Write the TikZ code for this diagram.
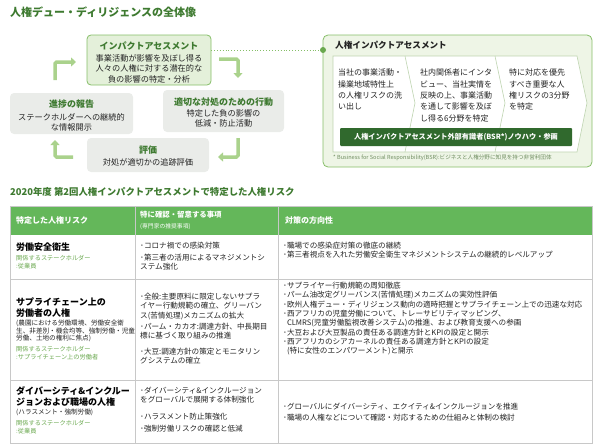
\documentclass[tikz,border=0pt]{standalone}
\usepackage{fontspec}
\setmainfont{Noto Sans CJK JP}
\usetikzlibrary{arrows.meta}
\definecolor{ttlgreen}{RGB}{62,122,48}
\definecolor{boxgreen}{RGB}{134,190,104}
\definecolor{boxfill}{RGB}{228,240,218}
\definecolor{grayfill}{RGB}{234,236,233}
\definecolor{arrowgreen}{RGB}{170,210,140}
\definecolor{panelfill}{RGB}{238,245,230}
\definecolor{chevline}{RGB}{190,212,176}
\definecolor{bargreen}{RGB}{48,105,45}
\definecolor{headgreen}{RGB}{100,183,90}
\definecolor{skgreen}{RGB}{106,168,79}
\definecolor{notegreen}{RGB}{110,140,95}
\definecolor{linegray}{RGB}{200,200,200}
\definecolor{txtgray}{RGB}{35,35,35}
\tikzset{
	maintitle/.style={anchor=north west, inner sep=0pt, font=\fontsize{11}{13}\selectfont\bfseries, text=ttlgreen},
	boxtitle/.style={anchor=north, inner sep=0pt, font=\fontsize{9}{11}\selectfont\bfseries, text=ttlgreen},
	boxbody/.style={anchor=north, inner sep=0pt, align=center, font=\fontsize{8.2}{10.5}\selectfont, text=txtgray},
	steptext/.style={anchor=north west, inner sep=0pt, align=left, font=\fontsize{8}{11.3}\selectfont, text=txtgray},
	cyclearrow/.style={line width=3.5pt, color=arrowgreen, rounded corners=1.5pt, -{Triangle[length=5pt,width=9pt]}},
	headtext/.style={anchor=north west, inner sep=0pt, font=\fontsize{8}{10}\selectfont\bfseries, text=white},
	celltitle/.style={anchor=north west, inner sep=0pt, align=left, font=\fontsize{9}{11}\selectfont\bfseries, text=black},
	cellnote/.style={anchor=north west, inner sep=0pt, align=left, font=\fontsize{6.6}{7.6}\selectfont, text=txtgray},
	cellsk/.style={anchor=north west, inner sep=0pt, align=left, font=\fontsize{6.2}{8.5}\selectfont, text=skgreen},
	celltext/.style={anchor=north west, inner sep=0pt, align=left, font=\fontsize{7.6}{9.3}\selectfont, text=txtgray}
}

\begin{document}
\begin{tikzpicture}[x=1pt,y=-1pt]
	%%%%% START %%%%%
	\useasboundingbox (0,0) rectangle (600,447);

	\node[maintitle] (title) at (10,6.5) {人権デュー・ディリジェンスの全体像};

	% cycle of the due diligence
	\draw[rounded corners=4pt, draw=boxgreen, fill=boxfill, line width=0.8pt] (87,35) rectangle (211,85);
	\node[boxtitle] (assesstitle) at (149,41.5) {インパクトアセスメント};
	\node[boxbody] (assessbody) at (149,54) {事業活動が影響を及ぼし得る\\人々の人権に対する潜在的な\\負の影響の特定・分析};

	\fill[rounded corners=4pt, grayfill] (163,90) rectangle (284,132);
	\node[boxtitle] (acttitle) at (223.5,97.5) {適切な対処のための行動};
	\node[boxbody] (actbody) at (223.5,109) {特定した負の影響の\\低減・防止活動};

	\fill[rounded corners=4pt, grayfill] (87,138) rectangle (209,172);
	\node[boxtitle] (evaltitle) at (148,145.5) {評価};
	\node[boxbody] (evalbody) at (148,158) {対処が適切かの追跡評価};

	\fill[rounded corners=4pt, grayfill] (10,93) rectangle (133,134);
	\node[boxtitle] (reporttitle) at (71.5,99.5) {進捗の報告};
	\node[boxbody] (reportbody) at (71.5,113) {ステークホルダーへの継続的\\な情報開示};

	\draw[cyclearrow] (55,80) -- (55,62) -- (76,62);
	\draw[cyclearrow] (219,59) -- (238,59) -- (238,78);
	\draw[cyclearrow] (238,138) -- (238,157) -- (218,157);
	\draw[cyclearrow] (73,157) -- (55,157) -- (55,140);

	% human rights impact assessment panel
	\draw[dotted, line width=0.9pt, color=boxgreen] (211,50) -- (320,50);
	\draw[rounded corners=5pt, draw=boxgreen, fill=panelfill, line width=0.8pt] (323,35) rectangle (592,167);
	\fill[skgreen] (323,50) circle (3);
	\node[anchor=north west, inner sep=0pt, font=\fontsize{8.6}{10}\selectfont\bfseries, text=txtgray] (paneltitle) at (335,40.5) {人権インパクトアセスメント};

	\draw[draw=chevline, fill=white, line width=0.6pt] (333,56) -- (577,56) -- (587,103) -- (577,152) -- (333,152) -- cycle;
	\draw[chevline, line width=0.6pt] (405,56) -- (415,103) -- (405,152);
	\draw[chevline, line width=0.6pt] (495,56) -- (505,103) -- (495,152);

	\node[steptext] (stepone) at (338,69) {当社の事業活動・\\操業地域特性上\\の人権リスクの洗\\い出し};
	\node[steptext] (steptwo) at (420,69) {社内関係者にインタ\\ビュー、当社実情を\\反映の上、事業活動\\を通して影響を及ぼ\\し得る6分野を特定};
	\node[steptext] (stepthree) at (509,69) {特に対応を優先\\すべき重要な人\\権リスクの3分野\\を特定};

	\fill[bargreen, rounded corners=1pt] (340,128) rectangle (572,146);
	\node[inner sep=0pt, font=\fontsize{7.2}{9}\selectfont\bfseries, text=white] (expertbar) at (456,137) {人権インパクトアセスメント外部有識者(BSR*)ノウハウ・参画};
	\node[anchor=west, inner sep=0pt, font=\fontsize{5.6}{7}\selectfont, text=notegreen] (footnote) at (333,158) {* Business for Social Responsibility(BSR):ビジネスと人権分野に知見を持つ非営利団体};

	% table of identified risks
	\node[anchor=north west, inner sep=0pt, font=\fontsize{9.4}{11}\selectfont\bfseries, text=ttlgreen] (tabletitle) at (10,187) {2020年度 第2回人権インパクトアセスメントで特定した人権リスク};

	\fill[headgreen] (10,206) rectangle (592,235);
	\draw[linegray, line width=0.8pt] (10,206) rectangle (592,443);
	\draw[linegray, line width=0.8pt] (10,279) -- (592,279);
	\draw[linegray, line width=0.8pt] (10,380) -- (592,380);
	\draw[linegray, line width=0.6pt] (135,206) -- (135,443);
	\draw[linegray, line width=0.6pt] (278,206) -- (278,443);

	\node[headtext] (headrisk) at (16,216) {特定した人権リスク};
	\node[headtext, font=\fontsize{7.4}{9}\selectfont\bfseries] (headcheck) at (140,211) {特に確認・留意する事項};
	\node[anchor=north west, inner sep=0pt, font=\fontsize{5.8}{7}\selectfont, text=white] (headexpert) at (140,223) {(専門家の推奨事項)};
	\node[headtext] (headaction) at (285,216) {対策の方向性};

	% row 1
	\node[celltitle] (riskone) at (16,242.5) {労働安全衛生};
	\node[cellsk] (skone) at (16,255) {関係するステークホルダー\\:従業員};
	\node[celltext] (checkonea) at (140,242) {･コロナ禍での感染対策};
	\node[celltext] (checkoneb) at (140,254) {･第三者の活用によるマネジメントシ\\ステム強化};
	\node[celltext] (actone) at (283,242) {･職場での感染症対策の徹底の継続\\･第三者視点を入れた労働安全衛生マネジメントシステムの継続的レベルアップ};

	% row 2
	\node[celltitle] (risktwo) at (16,297.5) {サプライチェーン上の\\労働者の人権};
	\node[cellnote] (notetwo) at (16,320) {(農園における労働環境、労働安全衛\\生、非差別・機会均等、強制労働・児童\\労働、土地の権利に焦点)};
	\node[cellsk] (sktwo) at (16,346) {関係するステークホルダー\\:サプライチェーン上の労働者};
	\node[celltext] (checktwoa) at (140,293) {･全般:主要原料に限定しないサプラ\\イヤー行動規範の確立、グリーバン\\ス(苦情処理)メカニズムの拡大};
	\node[celltext] (checktwob) at (140,323) {･パーム・カカオ:調達方針、中長期目\\標に基づく取り組みの推進};
	\node[celltext] (checktwoc) at (140,348) {･大豆:調達方針の策定とモニタリン\\グシステムの確立};
	\node[celltext] (acttwo) at (283,282) {･サプライヤー行動規範の周知徹底\\･パーム油改定グリーバンス(苦情処理)メカニズムの実効性評価\\･欧州人権デュー・ディリジェンス動向の適時把握とサプライチェーン上での迅速な対応\\･西アフリカの児童労働について、トレーサビリティマッピング、\\\phantom{･}CLMRS(児童労働監視改善システム)の推進、および教育支援への参画\\･大豆および大豆製品の責任ある調達方針とKPIの設定と開示\\･西アフリカのシアカーネルの責任ある調達方針とKPIの設定\\\phantom{･}(特に女性のエンパワーメント)と開示};

	% row 3
	\node[celltitle] (riskthree) at (16,386.5) {ダイバーシティ\&インクルー\\ジョンおよび職場の人権};
	\node[cellnote] (notethree) at (16,409) {(ハラスメント・強制労働)};
	\node[cellsk] (skthree) at (16,420) {関係するステークホルダー\\:従業員};
	\node[celltext] (checkthreea) at (140,387) {･ダイバーシティ\&インクルージョン\\をグローバルで展開する体制強化};
	\node[celltext] (checkthreeb) at (140,413) {･ハラスメント防止策強化};
	\node[celltext] (checkthreec) at (140,425) {･強制労働リスクの確認と低減};
	\node[celltext, font=\fontsize{7.6}{10.7}\selectfont] (actthree) at (283,403) {･グローバルにダイバーシティ、エクイティ\&インクルージョンを推進\\･職場の人権などについて確認・対応するための仕組みと体制の検討};

	%%%%% END %%%%%
\end{tikzpicture}
\end{document}
